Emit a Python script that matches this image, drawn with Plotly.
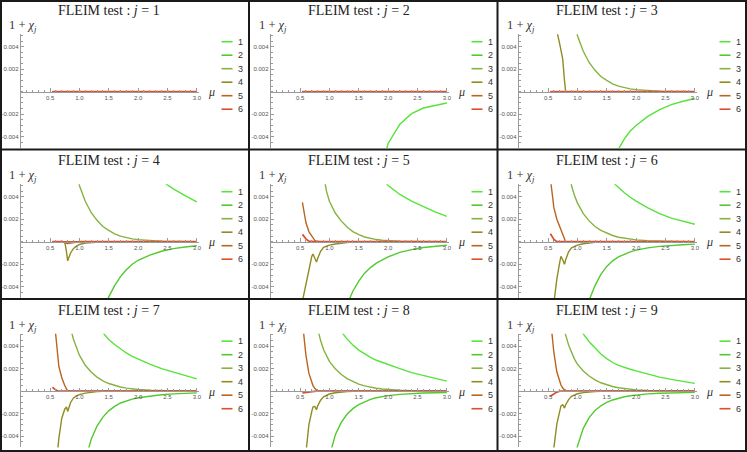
import plotly.graph_objects as go

# ---------------- data (values of 1 + chi_j in units of 1e-3) ----------------
MU = [0.54, 0.6, 0.65, 0.7, 0.72, 0.75, 0.78, 0.8, 0.85, 0.9, 0.95, 1.0, 1.1, 1.2, 1.3,
      1.4, 1.5, 1.6, 1.7, 1.8, 1.9, 2.0, 2.2, 2.4, 2.6, 2.8, 3.0]

CHI_J1 = [
    [0, 0, 0, 0, 0, 0, 0, 0, 0, 0, 0, 0, 0, 0, 0, 0, 0, 0, 0, 0, 0, 0, 0, 0, 0, 0, 0],
    [0, 0, 0, 0, 0, 0, 0, 0, 0, 0, 0, 0, 0, 0, 0, 0, 0, 0, 0, 0, 0, 0, 0, 0, 0, 0, 0],
    [0, 0, 0, 0, 0, 0, 0, 0, 0, 0, 0, 0, 0, 0, 0, 0, 0, 0, 0, 0, 0, 0, 0, 0, 0, 0, 0],
    [0, 0, 0, 0, 0, 0, 0, 0, 0, 0, 0, 0, 0, 0, 0, 0, 0, 0, 0, 0, 0, 0, 0, 0, 0, 0, 0],
    [0, 0, 0, 0, 0, 0, 0, 0, 0, 0, 0, 0, 0, 0, 0, 0, 0, 0, 0, 0, 0, 0, 0, 0, 0, 0, 0],
    [0, 0, 0, 0, 0, 0, 0, 0, 0, 0, 0, 0, 0, 0, 0, 0, 0, 0, 0, 0, 0, 0, 0, 0, 0, 0, 0],
]
CHI_J2 = [
    [-30, -30, -30, -30, -30, -30, -30, -30, -30, -30, -30, -30, -30, -30, -30, -30, -30, -30,
     -14, -9.5, -6.6, -4.6, -2.9, -1.95, -1.45, -1.2, -1.0],
    [0, 0, 0, 0, 0, 0, 0, 0, 0, 0, 0, 0, 0, 0, 0, 0, 0, 0, 0, 0, 0, 0, 0, 0, 0, 0, 0],
    [0, 0, 0, 0, 0, 0, 0, 0, 0, 0, 0, 0, 0, 0, 0, 0, 0, 0, 0, 0, 0, 0, 0, 0, 0, 0, 0],
    [0, 0, 0, 0, 0, 0, 0, 0, 0, 0, 0, 0, 0, 0, 0, 0, 0, 0, 0, 0, 0, 0, 0, 0, 0, 0, 0],
    [0, 0, 0, 0, 0, 0, 0, 0, 0, 0, 0, 0, 0, 0, 0, 0, 0, 0, 0, 0, 0, 0, 0, 0, 0, 0, 0],
    [0, 0, 0, 0, 0, 0, 0, 0, 0, 0, 0, 0, 0, 0, 0, 0, 0, 0, 0, 0, 0, 0, 0, 0, 0, 0, 0],
]
CHI_J3 = [
    [-30, -30, -30, -30, -30, -30, -30, -30, -30, -30, -30, -30, -30, -30, -30, -30, -30,
     -6.4, -5.1, -4.2, -3.5, -3.0, -2.2, -1.6, -1.15, -0.85, -0.6],
    [0, 0, 0, 0, 0, 0, 0, 0, 0, 0, 0, 0, 0, 0, 0, 0, 0, 0, 0, 0, 0, 0, 0, 0, 0, 0, 0],
    [30, 30, 30, 30, 30, 30, 30, 30, 30, 8.0, 6.3, 5.0, 3.6, 2.6, 1.9, 1.35, 1.0, 0.7, 0.5,
     0.35, 0.25, 0.18, 0.1, 0.05, 0.03, 0.02, 0.01],
    [9.5, 7.0, 5.4, 4.2, 3.7, 2.9, 1.0, 0, 0, 0, 0, 0, 0, 0, 0, 0, 0, 0, 0, 0, 0, 0, 0, 0, 0, 0, 0],
    [0, 0, 0, 0, 0, 0, 0, 0, 0, 0, 0, 0, 0, 0, 0, 0, 0, 0, 0, 0, 0, 0, 0, 0, 0, 0, 0],
    [0, 0, 0, 0, 0, 0, 0, 0, 0, 0, 0, 0, 0, 0, 0, 0, 0, 0, 0, 0, 0, 0, 0, 0, 0, 0, 0],
]
CHI_J4 = [
    [30, 30, 30, 30, 30, 30, 30, 30, 30, 30, 30, 30, 30, 30, 30, 30, 30, 30, 30, 30,
     8.3, 7.6, 6.4, 5.4, 4.7, 4.1, 3.55],
    [-30, -30, -30, -30, -30, -30, -30, -30, -30, -30, -30, -30, -30, -30, -30,
     -6.3, -4.9, -3.9, -3.1, -2.5, -2.0, -1.65, -1.2, -0.85, -0.62, -0.47, -0.36],
    [30, 30, 30, 30, 30, 30, 30, 30, 30, 8.0, 6.3, 5.0, 3.6, 2.6, 1.9, 1.35, 1.0, 0.7, 0.5,
     0.35, 0.25, 0.18, 0.1, 0.05, 0.03, 0.02, 0.01],
    [0, 0, 0, 0, 0, 0, -0.9, -1.7, -1.0, -0.6, -0.4, -0.25, -0.12, -0.06, -0.02,
     0, 0, 0, 0, 0, 0, 0, 0, 0, 0, 0, 0],
    [0, 0, 0, 0, 0, 0, 0, 0, 0, 0, 0, 0, 0, 0, 0, 0, 0, 0, 0, 0, 0, 0, 0, 0, 0, 0, 0],
    [0, 0, 0, 0, 0, -0.08, -0.15, -0.15, -0.1, -0.05, -0.02,
     0, 0, 0, 0, 0, 0, 0, 0, 0, 0, 0, 0, 0, 0, 0, 0],
]
CHI_J5 = [
    [30, 30, 30, 30, 30, 30, 30, 30, 30, 30, 30, 30, 30, 30, 30, 30, 30, 30, 30,
     6.4, 5.6, 5.0, 4.2, 3.6, 3.1, 2.65, 2.25],
    [-30, -30, -30, -30, -30, -30, -30, -30, -30, -30, -30, -30, -30,
     -7.0, -5.6, -4.4, -3.5, -2.8, -2.3, -1.9, -1.6, -1.35, -0.95, -0.7, -0.52, -0.4, -0.32],
    [30, 30, 30, 30, 30, 30, 30, 30, 30, 6.0, 4.5, 3.6, 2.55, 1.85, 1.3, 0.9, 0.62, 0.42, 0.28,
     0.19, 0.13, 0.09, 0.05, 0.03, 0.02, 0.01, 0],
    [-5.3, -3.7, -2.4, -1.3, -1.1, -1.5, -1.8, -1.5, -0.85, -0.5, -0.38, -0.3, -0.2, -0.12,
     -0.06, -0.02, 0, 0, 0, 0, 0, 0, 0, 0, 0, 0, 0],
    [3.5, 1.7, 0.9, 0.45, 0.3, 0.12, 0.02, 0, 0, 0, 0, 0, 0, 0, 0, 0, 0, 0, 0, 0, 0, 0, 0, 0, 0, 0, 0],
    [0.65, 0.25, 0.05, 0, 0, 0, 0, 0, 0, 0, 0, 0, 0, 0, 0, 0, 0, 0, 0, 0, 0, 0, 0, 0, 0, 0, 0],
]
CHI_J6 = [
    [30, 30, 30, 30, 30, 30, 30, 30, 30, 30, 30, 30, 30, 30, 30, 30, 30,
     5.3, 4.8, 4.35, 3.95, 3.6, 3.0, 2.5, 2.1, 1.8, 1.55],
    [-30, -30, -30, -30, -30, -30, -30, -30, -30, -30, -30, -30,
     -7.5, -5.2, -3.9, -2.9, -2.2, -1.7, -1.35, -1.1, -0.9, -0.75, -0.55, -0.42, -0.33, -0.27, -0.22],
    [30, 30, 30, 30, 30, 30, 30, 8.0, 6.2, 5.0, 4.1, 3.45, 2.5, 1.85, 1.35, 1.0, 0.74, 0.55, 0.4,
     0.3, 0.22, 0.16, 0.09, 0.05, 0.03, 0.01, 0],
    [-8.0, -5.3, -3.3, -1.8, -1.3, -1.6, -2.0, -1.6, -0.9, -0.55, -0.4, -0.3, -0.18, -0.1,
     -0.05, -0.02, 0, 0, 0, 0, 0, 0, 0, 0, 0, 0, 0],
    [5.6, 3.0, 2.0, 1.3, 1.0, 0.55, 0.15, 0, 0, 0, 0, 0, 0, 0, 0, 0, 0, 0, 0, 0, 0, 0, 0, 0, 0, 0, 0],
    [0.7, 0.2, 0, 0, 0, 0, 0, 0, 0, 0, 0, 0, 0, 0, 0, 0, 0, 0, 0, 0, 0, 0, 0, 0, 0, 0, 0],
]
CHI_J7 = [
    [30, 30, 30, 30, 30, 30, 30, 30, 30, 30, 30, 30, 30, 30,
     5.8, 5.15, 4.6, 4.15, 3.75, 3.4, 3.1, 2.85, 2.4, 2.0, 1.7, 1.4, 1.1],
    [-30, -30, -30, -30, -30, -30, -30, -30, -30, -30, -30, -30,
     -6.2, -4.3, -3.1, -2.3, -1.75, -1.35, -1.05, -0.85, -0.7, -0.58, -0.42, -0.31, -0.24, -0.19, -0.15],
    [30, 30, 30, 30, 30, 30, 30, 7.5, 5.6, 4.6, 3.8, 3.2, 2.3, 1.7, 1.25, 0.92, 0.68, 0.5, 0.37,
     0.27, 0.2, 0.15, 0.08, 0.04, 0.02, 0.01, 0],
    [-10.0, -6.5, -4.2, -2.4, -2.0, -1.6, -1.4, -1.8, -1.0, -0.6, -0.42, -0.3, -0.17, -0.09,
     -0.04, -0.01, 0, 0, 0, 0, 0, 0, 0, 0, 0, 0, 0],
    [8.0, 4.6, 2.2, 1.2, 0.9, 0.5, 0.2, 0.05, 0, 0, 0, 0, 0, 0, 0, 0, 0, 0, 0, 0, 0, 0, 0, 0, 0, 0, 0],
    [0.35, 0.1, 0, 0, 0, 0, 0, 0, 0, 0, 0, 0, 0, 0, 0, 0, 0, 0, 0, 0, 0, 0, 0, 0, 0, 0, 0],
]
CHI_J8 = [
    [30, 30, 30, 30, 30, 30, 30, 30, 30, 30, 30, 30,
     6.1, 5.3, 4.65, 4.1, 3.65, 3.3, 3.0, 2.75, 2.55, 2.35, 2.0, 1.65, 1.4, 1.15, 0.9],
    [-30, -30, -30, -30, -30, -30, -30, -30, -30, -30,
     -7.0, -5.8, -3.9, -2.8, -2.05, -1.55, -1.2, -0.93, -0.73, -0.58, -0.47, -0.39, -0.28,
     -0.21, -0.16, -0.14, -0.12],
    [30, 30, 30, 30, 30, 30, 6.0, 5.5, 4.5, 3.7, 3.1, 2.65, 2.0, 1.5, 1.12, 0.85, 0.63, 0.47,
     0.35, 0.26, 0.19, 0.14, 0.08, 0.04, 0.02, 0.01, 0],
    [-8.5, -5.2, -3.0, -1.8, -1.4, -1.35, -1.65, -1.3, -0.8, -0.5, -0.35, -0.25, -0.14, -0.07,
     -0.03, -0.01, 0, 0, 0, 0, 0, 0, 0, 0, 0, 0, 0],
    [6.2, 3.2, 1.6, 0.75, 0.5, 0.25, 0.08, 0.02, 0, 0, 0, 0, 0, 0, 0, 0, 0, 0, 0, 0, 0, 0, 0, 0, 0, 0, 0],
    [-0.15, -0.1, -0.05, 0, 0, 0, 0, 0, 0, 0, 0, 0, 0, 0, 0, 0, 0, 0, 0, 0, 0, 0, 0, 0, 0, 0, 0],
]
CHI_J9 = [
    [30, 30, 30, 30, 30, 30, 30, 30, 30, 30, 30,
     6.0, 5.1, 4.4, 3.8, 3.3, 2.9, 2.55, 2.3, 2.1, 1.95, 1.8, 1.5, 1.25, 1.05, 0.87, 0.7],
    [-30, -30, -30, -30, -30, -30, -30, -30, -30,
     -7.5, -6.0, -4.9, -3.3, -2.35, -1.72, -1.3, -1.0, -0.78, -0.61, -0.49, -0.4, -0.33,
     -0.24, -0.18, -0.14, -0.12, -0.1],
    [30, 30, 30, 30, 30, 6.3, 5.5, 5.0, 4.1, 3.4, 2.85, 2.4, 1.8, 1.35, 1.0, 0.75, 0.56, 0.42,
     0.31, 0.23, 0.17, 0.12, 0.07, 0.04, 0.02, 0.01, 0],
    [-8.5, -5.0, -2.9, -1.7, -1.3, -1.2, -1.5, -1.2, -0.75, -0.45, -0.32, -0.23, -0.13, -0.06,
     -0.03, -0.01, 0, 0, 0, 0, 0, 0, 0, 0, 0, 0, 0],
    [6.5, 3.4, 1.7, 0.8, 0.55, 0.28, 0.08, 0.02, 0, 0, 0, 0, 0, 0, 0, 0, 0, 0, 0, 0, 0, 0, 0, 0, 0, 0, 0],
    [-0.45, -0.25, -0.08, 0, 0, 0, 0, 0, 0, 0, 0, 0, 0, 0, 0, 0, 0, 0, 0, 0, 0, 0, 0, 0, 0, 0, 0],
]

PANEL_J = [1, 2, 3, 4, 5, 6, 7, 8, 9]
CURVE_NAMES = ["1", "2", "3", "4", "5", "6"]
COLORS = ["#55e43a", "#52c92e", "#86b240", "#8f8c22", "#bb641e", "#dd4f2c"]
X_TICKS = [0.5, 1.0, 1.5, 2.0, 2.5, 3.0]
X_TICK_TEXT = ["0.5", "1.0", "1.5", "2.0", "2.5", "3.0"]
Y_TICKS = [-0.004, -0.002, 0.002, 0.004]
Y_TICK_TEXT = ["-0.004", "-0.002", "0.002", "0.004"]

PANELS = [CHI_J1, CHI_J2, CHI_J3, CHI_J4, CHI_J5, CHI_J6, CHI_J7, CHI_J8, CHI_J9]

# ---------------- layout geometry (pixels) ----------------
W, H = 747, 452
COL_X0 = [0, 250, 498]
ROW_Y0 = [0, 150, 299.5]
PX_PER_MU = 58.7
PX_PER_MILLI = 11.25
X_MAX = 3.03
Y_MIN, Y_MAX = -0.0050, 0.0051


def px(x):
    return x / W


def py(y):
    return 1 - y / H


fig = go.Figure()
layout_axes = {}
annotations = []
shapes = []

for k in range(9):
    r, c = divmod(k, 3)
    x0 = COL_X0[c]
    y0 = ROW_Y0[r]
    n = k + 1
    xref = "x" if n == 1 else f"x{n}"
    yref = "y" if n == 1 else f"y{n}"
    xkey = "xaxis" if n == 1 else f"xaxis{n}"
    ykey = "yaxis" if n == 1 else f"yaxis{n}"

    data = PANELS[k]
    for i in range(6):
        fig.add_trace(go.Scatter(
            x=MU, y=[v * 1e-3 for v in data[i]], mode="lines",
            name=CURVE_NAMES[i], line=dict(color=COLORS[i], width=1.4 if i < 5 else 1.7),
            xaxis=xref, yaxis=yref, showlegend=False,
        ))

    x_left = x0 + 20.7
    x_right = x_left + X_MAX * PX_PER_MU
    y_zero = y0 + 91.7
    y_top = y_zero - Y_MAX * 1e3 * PX_PER_MILLI
    y_bot = y_zero - Y_MIN * 1e3 * PX_PER_MILLI

    layout_axes[xkey] = dict(
        domain=[px(x_left), px(x_right)], range=[0, X_MAX],
        anchor="free", position=py(y_zero), automargin=False,
        showgrid=False, zeroline=False, showline=True, linecolor="#9a9a9a", linewidth=1,
        tickmode="array", tickvals=X_TICKS, ticktext=X_TICK_TEXT,
        ticks="inside", ticklen=3.5, tickcolor="#9a9a9a", tickwidth=1,
        minor=dict(tickmode="linear", tick0=0, dtick=0.1, ticks="inside", ticklen=2,
                   tickcolor="#9a9a9a", showgrid=False),
        tickfont=dict(family="Liberation Sans", size=6, color="#555555"),
        fixedrange=True,
    )
    layout_axes[ykey] = dict(
        domain=[py(y_bot), py(y_top)], range=[Y_MIN, Y_MAX],
        anchor=xref, automargin=False,
        showgrid=False, zeroline=False, showline=True, linecolor="#9a9a9a", linewidth=1,
        tickmode="array", tickvals=Y_TICKS, ticktext=Y_TICK_TEXT,
        ticks="inside", ticklen=3.5, tickcolor="#9a9a9a", tickwidth=1,
        minor=dict(tickmode="linear", tick0=0, dtick=0.0005, ticks="inside", ticklen=2,
                   tickcolor="#9a9a9a", showgrid=False),
        tickfont=dict(family="Liberation Sans", size=6, color="#555555"),
        fixedrange=True,
    )

    # title
    annotations.append(dict(
        x=px(x0 + 108.5), y=py(y0 + 11), xref="paper", yref="paper",
        text=f"FLEIM test : <i>j</i> = {PANEL_J[k]}", showarrow=False,
        xanchor="center", yanchor="middle",
        font=dict(family="Liberation Serif", size=14, color="#222222"),
    ))
    # y label
    annotations.append(dict(
        x=px(x0 + 7), y=py(y0 + 26), xref="paper", yref="paper",
        text="1 + <i>χ</i><sub><i>j</i></sub>", showarrow=False,
        xanchor="left", yanchor="middle",
        font=dict(family="Liberation Serif", size=12.5, color="#333333"),
    ))
    # x label
    annotations.append(dict(
        x=px(x0 + 206), y=py(y0 + 92), xref="paper", yref="paper",
        text="<i>μ</i>", showarrow=False, xanchor="left", yanchor="middle",
        font=dict(family="Liberation Serif", size=12, color="#333333"),
    ))
    # legend (drawn per panel)
    for i in range(6):
        ly = y0 + 41.7 + i * 13.5
        shapes.append(dict(
            type="line", xref="paper", yref="paper",
            x0=px(x0 + 221.5), x1=px(x0 + 232.5), y0=py(ly), y1=py(ly),
            line=dict(color=COLORS[i], width=1.6),
        ))
        annotations.append(dict(
            x=px(x0 + 236), y=py(ly), xref="paper", yref="paper",
            text=CURVE_NAMES[i], showarrow=False, xanchor="left", yanchor="middle",
            font=dict(family="Liberation Sans", size=9, color="#333333"),
        ))

# panel borders
for xb in [1, 249, 497.5, 746]:
    shapes.append(dict(type="line", xref="paper", yref="paper",
                       x0=px(xb), x1=px(xb), y0=0, y1=1,
                       line=dict(color="#1a1a1a", width=2)))
for yb in [1, 149.5, 299, 451]:
    shapes.append(dict(type="line", xref="paper", yref="paper",
                       x0=0, x1=1, y0=py(yb), y1=py(yb),
                       line=dict(color="#1a1a1a", width=2)))

fig.update_layout(
    width=W, height=H, autosize=False,
    margin=dict(l=0, r=0, t=0, b=0),
    paper_bgcolor="white", plot_bgcolor="white",
    showlegend=False,
    annotations=annotations, shapes=shapes,
    **layout_axes,
)

fig.write_html("out.html", config={"displayModeBar": False},
               post_script="document.body.style.margin='0';document.body.style.overflow='hidden';")
